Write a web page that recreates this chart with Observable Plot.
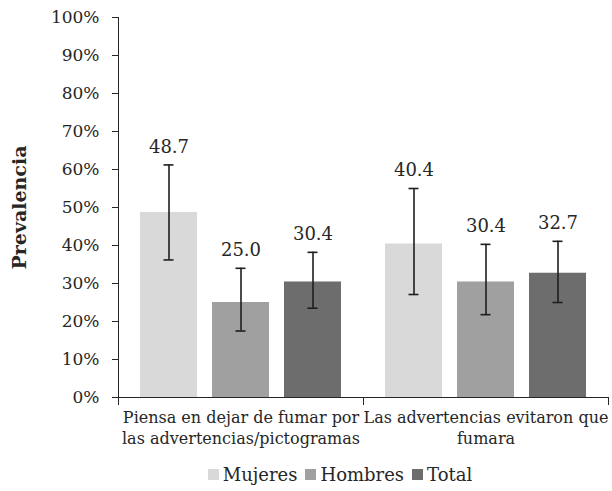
<!DOCTYPE html>
<html>
<head>
<meta charset="utf-8">
<script src="https://cdn.jsdelivr.net/npm/d3@7"></script>
<script src="https://cdn.jsdelivr.net/npm/@observablehq/plot@0.6"></script>
<style>
  body { margin: 0; background: #fff; width: 612px; }
  #chart svg [aria-label="y-axis label"] { font-weight: bold; font-size: 19px; }
  #chart svg [aria-label="values"] { letter-spacing: 2px; }
  #legend { display: flex; justify-content: center; align-items: center; gap: 6px;
    font-family: "DejaVu Serif", serif; font-size: 18px; color: #262626; height: 33px; padding-left: 70px; }
  #legend .item { display: flex; align-items: center; margin-right: 2px; }
  #legend .sw { width: 11px; height: 11px; display: inline-block; margin-right: 4px; }
</style>
</head>
<body>
<div id="chart"></div>
<div id="legend"></div>
<script>
const categories = ["Piensa en dejar de fumar por las advertencias/pictogramas", "Las advertencias evitaron que fumara"];
const categoryLines = [["Piensa en dejar de fumar por", "las advertencias/pictogramas"], ["Las advertencias evitaron que", "fumara"]];
const series = ["Mujeres", "Hombres", "Total"];
const values = [[48.7, 25.0, 30.4], [40.4, 30.4, 32.7]];
const lower = [[36.2, 17.5, 23.5], [27.1, 21.8, 25.0]];
const upper = [[61.2, 34.0, 38.2], [55.0, 40.3, 41.1]];
const colors = ["#d9d9d9", "#a0a0a0", "#6d6d6d"];
const yTicks = [0, 10, 20, 30, 40, 50, 60, 70, 80, 90, 100];

const data = [];
categories.forEach((c, i) => series.forEach((s, j) => data.push({
  category: c, series: s, value: values[i][j], lo: lower[i][j], hi: upper[i][j]
})));

const ink = "#262626";
const plot = Plot.plot({
  width: 612,
  height: 458,
  marginLeft: 117,
  marginRight: 4,
  marginTop: 17,
  marginBottom: 61,
  style: { fontFamily: "DejaVu Serif, serif", fontSize: "17px", color: ink, background: "#fff" },
  fx: { domain: categories, padding: 0 },
  x: { domain: series, paddingInner: 0.21, paddingOuter: 0.3, axis: null },
  y: { domain: [0, 100] },
  color: { domain: series, range: colors },
  marks: [
    Plot.barY(data, { fx: "category", x: "series", y: "value", fill: "series" }),
    Plot.ruleX(data, { fx: "category", x: "series", y1: "lo", y2: "hi", stroke: "#1e1e1e", strokeWidth: 1.6 }),
    Plot.tickY(data, { fx: "category", x: "series", y: "lo", stroke: "#1e1e1e", strokeWidth: 1.6, insetLeft: 23.5, insetRight: 23.5 }),
    Plot.tickY(data, { fx: "category", x: "series", y: "hi", stroke: "#1e1e1e", strokeWidth: 1.6, insetLeft: 23.5, insetRight: 23.5 }),
    Plot.text(data, { fx: "category", x: "series", y: "hi", text: d => d.value.toFixed(1), dy: -18, fontSize: 18, fill: ink, ariaLabel: "values" }),
    Plot.ruleY([0], { stroke: ink, strokeWidth: 1 }),
    Plot.frame({ anchor: "left", fx: categories[0], insetBottom: -7, stroke: ink }),
    Plot.frame({ anchor: "left", insetTop: 380, insetBottom: -7, stroke: ink }),
    Plot.frame({ anchor: "right", insetTop: 380, insetBottom: -7, stroke: ink }),
    Plot.axisY({ ticks: yTicks, tickFormat: d => d + "%", tickSize: 6, tickPadding: 13, stroke: ink,
      label: "Prevalencia", labelAnchor: "center", labelArrow: "none", labelOffset: 106, fontSize: 17 }),
    Plot.axisFx({ anchor: "bottom", tickSize: 0, tickPadding: 10, label: null, lineHeight: 1.35, fontSize: 16,
      tickFormat: d => categoryLines[categories.indexOf(d)].join("\n") })
  ]
});
document.getElementById("chart").appendChild(plot);

const legend = document.getElementById("legend");
series.forEach((s, i) => {
  const item = document.createElement("span");
  item.className = "item";
  item.innerHTML = `<span class="sw" style="background:${colors[i]}"></span>${s}`;
  legend.appendChild(item);
});
</script>
</body>
</html>
